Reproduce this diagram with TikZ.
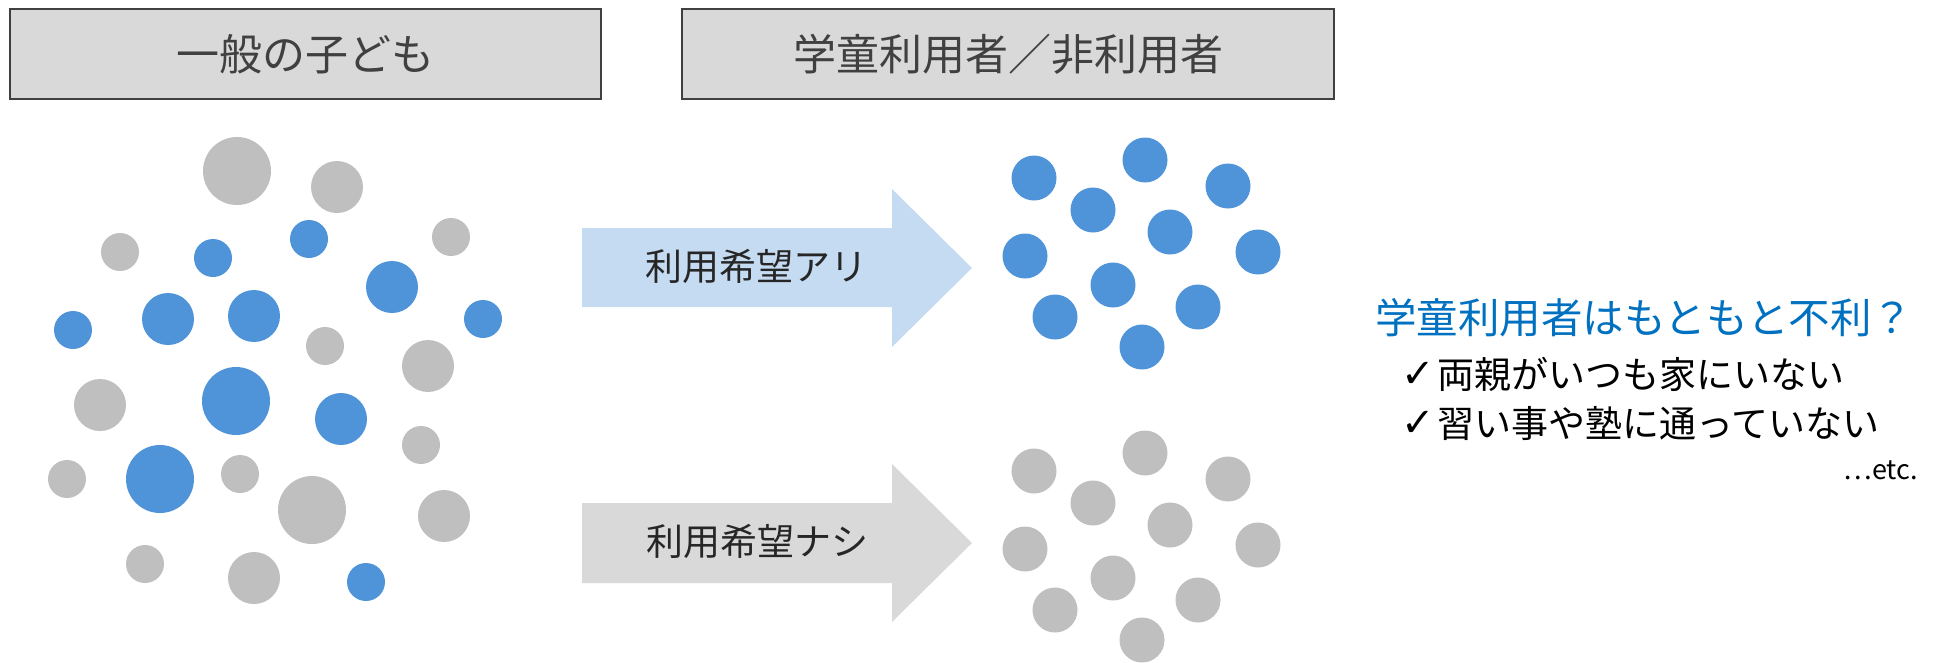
\documentclass[tikz,border=0pt]{standalone}
\usepackage{fontspec}
\setmainfont{Noto Sans CJK JP}
\newfontfamily\symfont{DejaVu Sans}
\definecolor{cblue}{HTML}{4F93D8}
\definecolor{cgray}{HTML}{BFBFBF}
\definecolor{boxgray}{HTML}{D9D9D9}
\definecolor{boxline}{HTML}{404040}
\definecolor{arrowblue}{HTML}{C5DBF1}
\definecolor{titleblue}{HTML}{0070C0}
\definecolor{txtgray}{HTML}{404040}
\definecolor{txtdark}{HTML}{262626}
\tikzset{
  hbox/.style={draw=boxline, line width=2pt, fill=boxgray, inner sep=0pt, text=txtgray,
    font=\fontsize{43}{50}\selectfont},
  bdot/.style={circle, fill=cblue, inner sep=0pt, minimum size=#1},
  gdot/.style={circle, fill=cgray, inner sep=0pt, minimum size=#1},
  arrtext/.style={inner sep=0pt, text=txtdark, font=\fontsize{37}{44}\selectfont},
  listtext/.style={inner sep=0pt, anchor=west, text=black, font=\fontsize{37}{44}\selectfont},
  chk/.style={inner sep=0pt, anchor=west, text=black, font=\symfont\fontsize{40}{46}\selectfont}
}
\begin{document}
\begin{tikzpicture}[x=1pt,y=-1pt]
\useasboundingbox (0,0) rectangle (1935,662);
% header boxes
\node[hbox, minimum width=591pt, minimum height=90pt] (h1) at (305.5,54) {一般の子ども};
\node[hbox, minimum width=652pt, minimum height=90pt] (h2) at (1008,54) {学童利用者／非利用者};
% left cluster
\node[gdot=68pt] (c1) at (237,171) {};
\node[gdot=52pt] (c2) at (337,187) {};
\node[gdot=38pt] (c3) at (120,252) {};
\node[bdot=38pt] (c4) at (213,258) {};
\node[bdot=38pt] (c5) at (309,239) {};
\node[gdot=38pt] (c6) at (451,237) {};
\node[bdot=52pt] (c7) at (392,287) {};
\node[bdot=38pt] (c8) at (73,330) {};
\node[bdot=52pt] (c9) at (168,319) {};
\node[bdot=52pt] (c10) at (254,316) {};
\node[gdot=38pt] (c11) at (325,346) {};
\node[bdot=38pt] (c12) at (483,319) {};
\node[gdot=52pt] (c13) at (428,366) {};
\node[gdot=52pt] (c14) at (100,405) {};
\node[bdot=68pt] (c15) at (236,401) {};
\node[bdot=52pt] (c16) at (341,419) {};
\node[gdot=38pt] (c17) at (421,445) {};
\node[gdot=38pt] (c18) at (67,479) {};
\node[bdot=68pt] (c19) at (160,479) {};
\node[gdot=38pt] (c20) at (240,474) {};
\node[gdot=68pt] (c21) at (312,510) {};
\node[gdot=52pt] (c22) at (444,516) {};
\node[gdot=38pt] (c23) at (145,564) {};
\node[gdot=52pt] (c24) at (254,578) {};
\node[bdot=38pt] (c25) at (366,582) {};
% arrows
\fill[arrowblue] (582,228) -- (892,228) -- (892,189) -- (972,268) -- (892,347) -- (892,307) -- (582,307) -- cycle;
\fill[boxgray] (582,503) -- (892,503) -- (892,464) -- (972,543) -- (892,622) -- (892,583) -- (582,583) -- cycle;
\node[arrtext] (a1) at (756,266) {利用希望アリ};
\node[arrtext] (a2) at (757,541) {利用希望ナシ};
% right clusters
\foreach \n/\x/\y in {1/1034/178, 2/1145/160, 3/1228/186, 4/1093/210, 5/1170/232, 6/1025/256,
  7/1258/252, 8/1113/285, 9/1055/317, 10/1198/307, 11/1142/347} {
  \node[bdot=45pt] (u\n) at (\x,\y) {};
  \node[gdot=45pt] (d\n) at (\x,\y+293) {};
}
% right text
\node[inner sep=0pt, anchor=west, text=titleblue, font=\fontsize{41.5}{48}\selectfont] (t) at (1375,318) {学童利用者はもともと不利？};
\node[chk] (k1) at (1401,375) {✓};
\node[listtext] (l1) at (1437,374) {両親がいつも家にいない};
\node[chk] (k2) at (1401,424) {✓};
\node[listtext] (l2) at (1437,423) {習い事や塾に通っていない};
\node[inner sep=0pt, anchor=east, text=black, font=\fontsize{27}{32}\selectfont] (etc) at (1918,470) {…etc.};
\end{tikzpicture}
\end{document}
